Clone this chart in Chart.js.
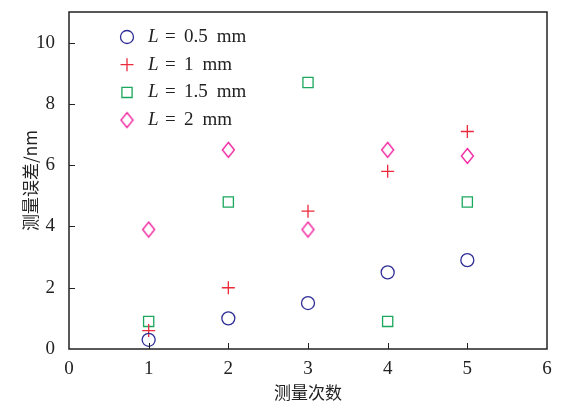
<!DOCTYPE html>
<html>
<head>
<meta charset="utf-8">
<script src="https://cdn.jsdelivr.net/npm/chart.js@4"></script>
<style>
  html, body { margin: 0; padding: 0; background: #fff; }
  #wrap { width: 561px; height: 403px; }
</style>
</head>
<body>
<div id="wrap"><canvas id="chart" width="561" height="403"></canvas></div>
<script>
// measurement index
const runs = [1, 2, 3, 4, 5];

// error (nm) per gap length
const errL05 = [0.3, 1.0, 1.5, 2.5, 2.9];
const errL1 = [0.6, 2.0, 4.5, 5.8, 7.1];
const errL15 = [0.9, 4.8, 8.7, 0.9, 4.8];
const errL2 = [3.9, 6.5, 3.9, 6.5, 6.3];

const seriesNames = ['0.5', '1', '1.5', '2'];
const xTicks = [0, 1, 2, 3, 4, 5, 6];
const yTicks = [0, 2, 4, 6, 8, 10];

const serif = '"Liberation Serif", "DejaVu Serif", serif';
const cjk = '"Noto Sans CJK SC", sans-serif';

// tall diamond marker
function makeDiamond(color) {
    const c = document.createElement('canvas');
    c.width = 15;
    c.height = 18;
    const g = c.getContext('2d');
    g.strokeStyle = color;
    g.lineWidth = 1.3;
    g.beginPath();
    g.moveTo(7.5, 1.5);
    g.lineTo(13.5, 9);
    g.lineTo(7.5, 16.5);
    g.lineTo(1.5, 9);
    g.closePath();
    g.stroke();
    return c;
}

function pts(vals) {
    return vals.map((v, i) => ({ x: runs[i], y: v }));
}

const datasets = [
    { label: 'L = 0.5 mm', data: pts(errL05), pointStyle: 'circle', pointRadius: 6.5, borderColor: '#2e2e96' },
    { label: 'L = 1 mm', data: pts(errL1), pointStyle: 'cross', pointRadius: 6.5, borderColor: '#ec2a3c' },
    { label: 'L = 1.5 mm', data: pts(errL15), pointStyle: 'rect', pointRadius: 7.2, borderColor: '#1aa85c' },
    { label: 'L = 2 mm', data: pts(errL2), pointStyle: makeDiamond('#f0189a'), pointRadius: 7, borderColor: '#f0189a' }
].map(d => Object.assign(d, {
    backgroundColor: 'rgba(0,0,0,0)',
    pointBorderWidth: 1.3,
    showLine: false
}));

// frame, inward ticks and legend
const decor = {
    id: 'decor',
    afterDraw(chart) {
        const { ctx, chartArea: a, scales } = chart;
        ctx.save();
        ctx.strokeStyle = '#222';
        ctx.lineWidth = 1.5;
        ctx.strokeRect(a.left, a.top, a.right - a.left, a.bottom - a.top);
        ctx.lineWidth = 1;
        ctx.beginPath();
        xTicks.slice(1, -1).forEach(t => {
            const px = Math.round(scales.x.getPixelForValue(t)) + 0.5;
            ctx.moveTo(px, a.bottom);
            ctx.lineTo(px, a.bottom - 6);
        });
        yTicks.slice(1).forEach(t => {
            const py = Math.round(scales.y.getPixelForValue(t)) + 0.5;
            ctx.moveTo(a.left, py);
            ctx.lineTo(a.left + 6, py);
        });
        ctx.stroke();

        // legend
        chart.data.datasets.forEach((d, i) => {
            const y = 37 + i * 27.7;
            ctx.strokeStyle = d.borderColor;
            ctx.fillStyle = 'rgba(0,0,0,0)';
            ctx.lineWidth = 1.3;
            Chart.helpers.drawPoint(ctx, {
                pointStyle: d.pointStyle,
                radius: d.pointRadius,
                borderWidth: 1.3,
                rotation: 0
            }, 127, y);
            ctx.fillStyle = '#222';
            ctx.textBaseline = 'middle';
            ctx.textAlign = 'left';
            ctx.font = 'italic 19px ' + serif;
            ctx.fillText('L', 148, y);
            ctx.font = '19px ' + serif;
            ctx.fillText('=', 165, y);
            ctx.fillText(seriesNames[i], 184, y);
            const w = ctx.measureText(seriesNames[i]).width;
            ctx.fillText('mm', 184 + w + 9, y);
        });
        ctx.restore();
    }
};

new Chart(document.getElementById('chart'), {
    type: 'scatter',
    data: { datasets: datasets },
    options: {
        responsive: false,
        animation: false,
        layout: { padding: { top: 12, right: 14, left: 0, bottom: 0 } },
        plugins: { legend: { display: false }, tooltip: { enabled: false } },
        scales: {
            x: {
                min: 0,
                max: 6,
                afterBuildTicks: s => { s.ticks = xTicks.map(v => ({ value: v })); },
                afterFit: s => { s.height = 54; s.paddingLeft = 0; s.paddingRight = 0; },
                grid: { display: false },
                border: { display: false },
                ticks: { padding: 1, color: '#222', font: { family: serif, size: 19 } },
                title: { display: true, text: '测量次数', color: '#222', padding: { top: 0, bottom: 0 }, font: { family: cjk, size: 17 } }
            },
            y: {
                min: 0,
                max: 11,
                afterBuildTicks: s => { s.ticks = yTicks.map(v => ({ value: v })); },
                afterFit: s => { s.width = 69; s.paddingTop = 0; s.paddingBottom = 0; },
                grid: { display: false },
                border: { display: false },
                ticks: { padding: 6, color: '#222', font: { family: serif, size: 19 } },
                title: { display: true, text: '测量误差/nm', color: '#222', padding: { top: 20, bottom: 0 }, font: { family: cjk, size: 17 } }
            }
        }
    },
    plugins: [decor]
});
</script>
</body>
</html>
